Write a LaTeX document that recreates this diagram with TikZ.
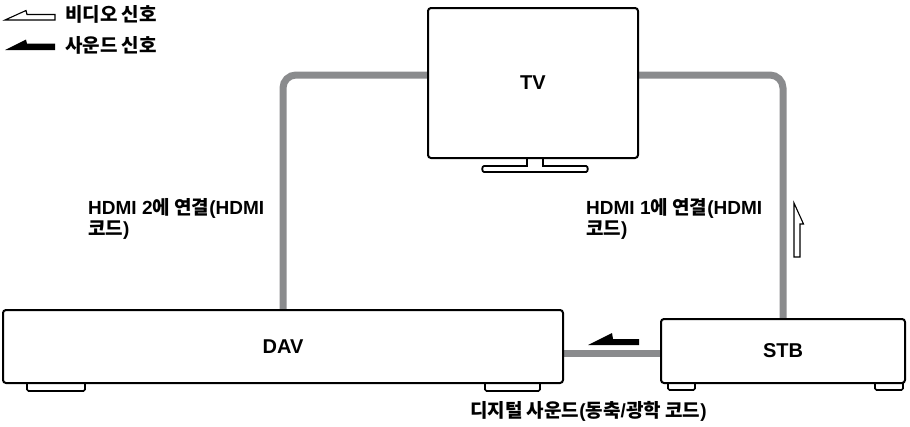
\documentclass[tikz,border=0pt]{standalone}
\usepackage{fontspec}
\setmainfont{Liberation Sans}
\newfontfamily\ko{Noto Sans CJK KR}
\usetikzlibrary{backgrounds}
\definecolor{cablegray}{HTML}{8A8B8D}
\newcommand{\latf}{\fontsize{19}{21}\selectfont\bfseries}
\newcommand{\boxf}{\fontsize{20}{22}\selectfont\bfseries}
\newcommand{\kr}[1]{{\ko\fontsize{19}{21}\selectfont\bfseries #1}}
\begin{document}
\begin{tikzpicture}[x=1pt,y=-1pt,
  box/.style={draw=black, line width=2pt, rounded corners=3pt, fill=white, inner sep=0pt, font=\boxf},
  cable/.style={draw=cablegray, line width=7pt},
  lbl/.style={inner sep=0pt, anchor=west, align=left, font=\latf},
  foot/.style={draw=black, line width=1.6pt, fill=white, rounded corners=1.5pt},
  harrow/.style={draw=black, line width=1.1pt, line join=miter},
  sarrow/.style={fill=black}]
\useasboundingbox (0,0) rectangle (910,426);

% feet and stand (under boxes)
\draw[foot] (27,378) rectangle (85,391);
\draw[foot] (485,378) rectangle (540,391);
\draw[foot] (668,378) rectangle (695,390);
\draw[foot] (875,378) rectangle (903,390);
\draw[line width=1.8pt, fill=white] (527,155) -- (527,166) -- (484,166)
  to[out=180,in=180] (484,172) -- (586,172) to[out=0,in=0] (586,166)
  -- (543,166) -- (543,155);

% boxes
\node[box, minimum width=210pt, minimum height=150pt] (tv) at (533,83) {TV};
\node[box, minimum width=560pt, minimum height=73pt] (dav) at (283,346.5) {DAV};
\node[box, minimum width=244pt, minimum height=64pt] (stb) at (783,351) {STB};

% cables
\begin{pgfonlayer}{background}
\draw[cable, rounded corners=13pt] (dav.north) |- ([yshift=8pt]tv.west);
\draw[cable, rounded corners=13pt] ([yshift=8pt]tv.east) -| (stb.north);
\coordinate (sc) at ([yshift=-2.5pt]stb.west);
\draw[cable] (sc) -- (dav.east |- sc);
\end{pgfonlayer}

% signal arrows
\draw[harrow, fill=white] (794,203) -- (803.5,224) -- (800,224) -- (800,257) -- (794,257) -- cycle;
\fill[sarrow] (588,345) -- (612,333) -- (613,339) -- (639,339) -- (639,345) -- cycle;

% legend
\draw[harrow, fill=white] (5,20) -- (26,10.5) -- (27,14.5) -- (55,14.5) -- (55,20) -- cycle;
\fill[sarrow] (5,50) -- (26,39.5) -- (27,43.5) -- (55,43.5) -- (55,50) -- cycle;
\node[lbl] (lv) at (65,14) {\kr{비디오 신호}};
\node[lbl] (la) at (65,45) {\kr{사운드 신호}};

% labels
\node[lbl] (h2) at (88,219) {HDMI 2\kr{에 연결}(HDMI\\\kr{코드})};
\node[lbl] (h1) at (586,219) {HDMI 1\kr{에 연결}(HDMI\\\kr{코드})};
\node[lbl] (ds) at (470,411) {\kr{디지털 사운드}(\kr{동축}/\kr{광학 코드})};
\end{tikzpicture}
\end{document}
